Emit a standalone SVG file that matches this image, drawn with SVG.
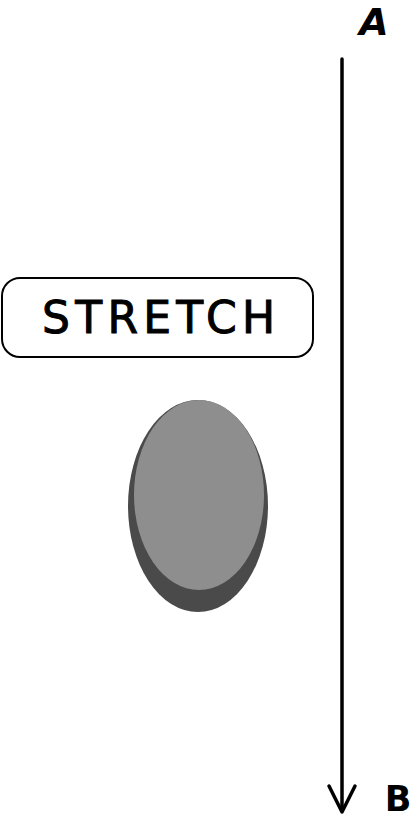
<svg xmlns="http://www.w3.org/2000/svg" width="416" height="819" viewBox="0 0 416 819">
<style>
.lbl{font-family:"DejaVu Sans","Liberation Sans",sans-serif;font-weight:bold;fill:#000}
.ln{stroke:#000;stroke-width:3.5;fill:none;stroke-linecap:round;stroke-linejoin:round}
.st{font-family:"DejaVu Sans","Liberation Sans",sans-serif;font-weight:normal;fill:#000;stroke:#000;stroke-width:1}
</style>
<rect width="416" height="819" fill="#fff"/>
<g id="connectors">
<line class="ln" x1="342" y1="59" x2="342" y2="811"/>
<polyline class="ln" points="329,786 342,812 355,786"/>
</g>
<g id="label-A"><text class="lbl" x="374" y="35" font-size="38" text-anchor="middle" font-style="italic">A</text></g>
<g id="label-B"><text class="lbl" x="398" y="811" font-size="35" text-anchor="middle">B</text></g>
<g id="stretch">
<rect x="2" y="278" width="311" height="79" rx="18" fill="#fff" stroke="#000" stroke-width="2"/>
<text class="st" x="42" y="333" font-size="44" textLength="233" lengthAdjust="spacing">STRETCH</text>
</g>
<g id="ellipse">
<ellipse cx="198" cy="506" rx="70" ry="106" fill="#4a4a4a"/>
<ellipse cx="199" cy="495" rx="65" ry="95" fill="#8e8e8e"/>
</g>
</svg>
